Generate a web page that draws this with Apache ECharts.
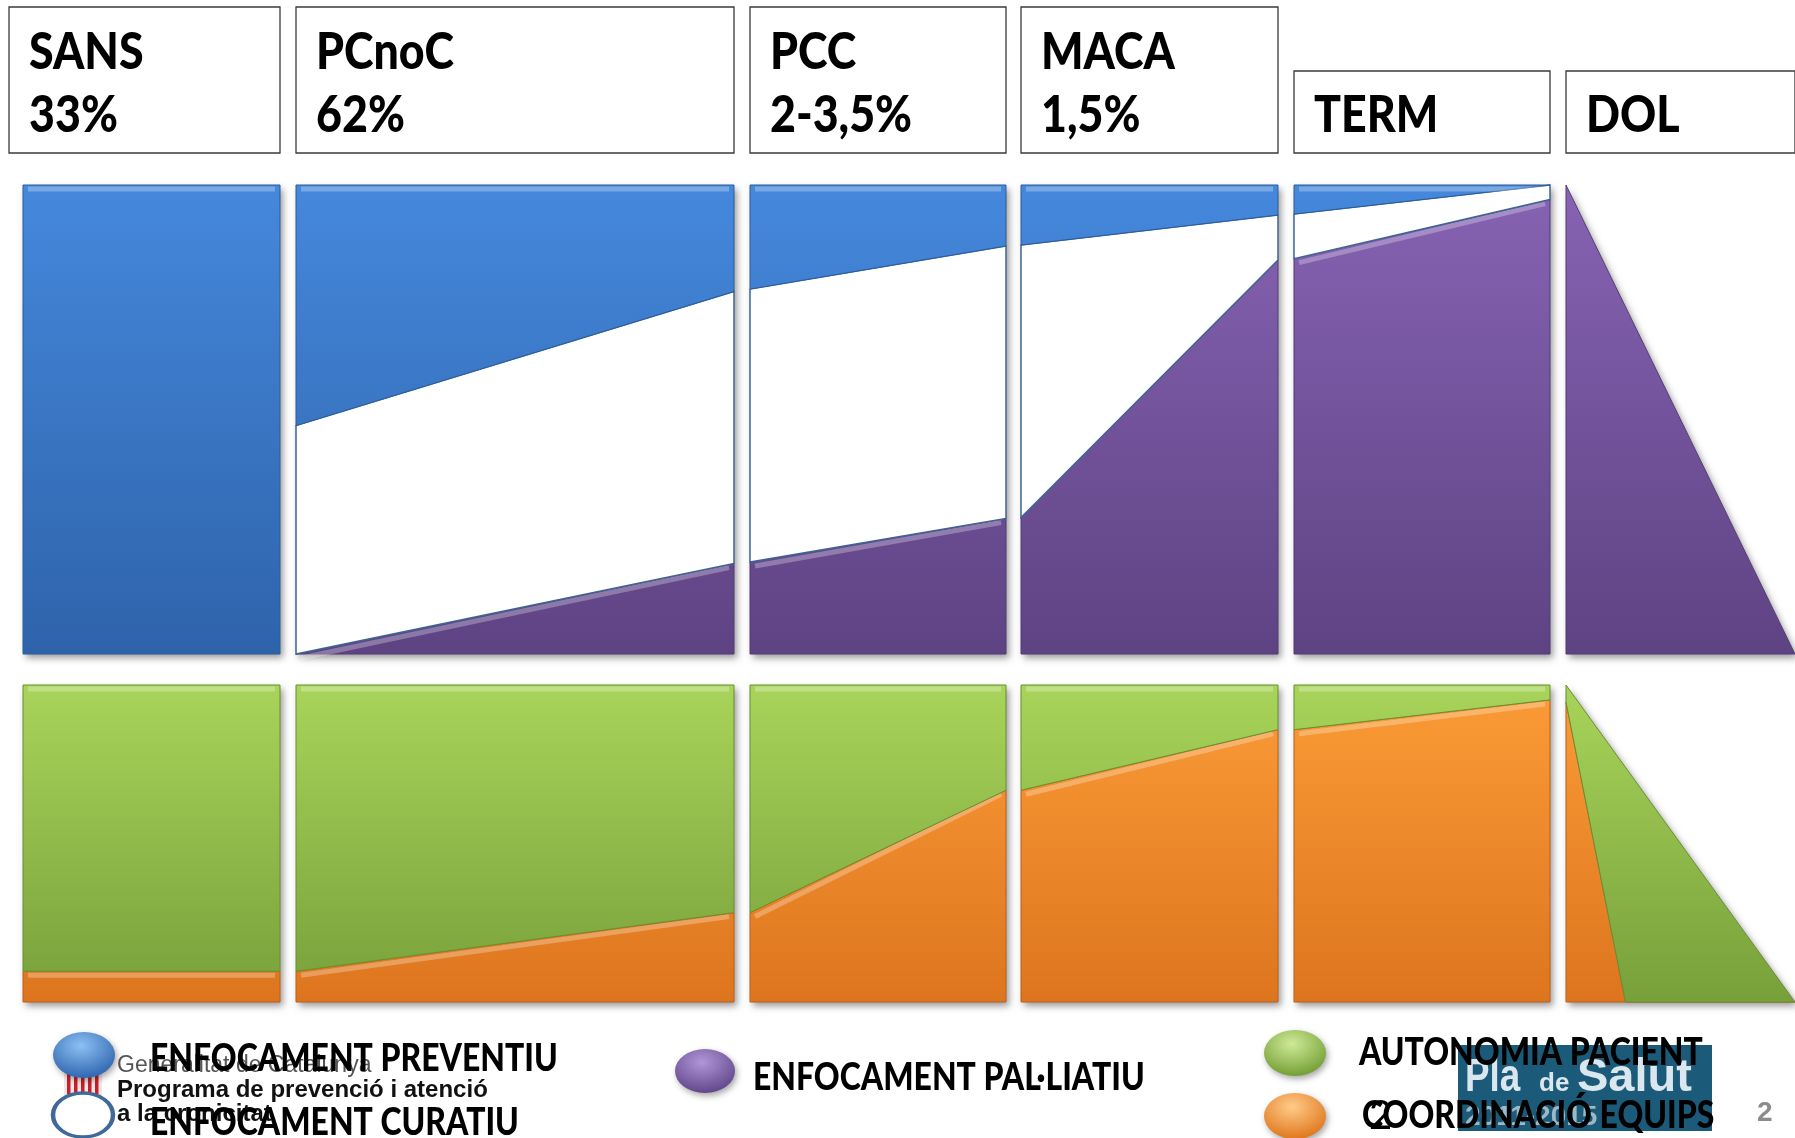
<!DOCTYPE html>
<html>
<head>
<meta charset="utf-8">
<script src="https://cdn.jsdelivr.net/npm/echarts@6/dist/echarts.min.js"></script>
<style>
  html, body { margin: 0; padding: 0; background: #fff; }
  #main { width: 1795px; height: 1138px; }
</style>
</head>
<body>
<div id="main"></div>
<script>
// stages of the patient pathway
const stages = ['SANS', 'PCnoC', 'PCC', 'MACA', 'TERM', 'DOL']
const shares = ['33%', '62%', '2-3,5%', '1,5%', '', '']
// extent of each stage on the (hidden) x axis
const stageStart = [23, 296, 750, 1021, 1294, 1566]
const stageEnd = [280, 734, 1006, 1278, 1550, 1795]

// upper panel: top of each layer at the left / right edge of a stage (0 = bottom, 1 = top)
const palliativeTop = [[0, 0], [0, 0.193], [0.196, 0.289], [0.291, 0.840], [0.843, 0.969], [1, 0]]
const curativeTop = [[0, 0], [0.487, 0.773], [0.778, 0.870], [0.872, 0.936], [0.938, 1.0], [1, 0]]
const preventiveTop = [[1, 1], [1, 1], [1, 1], [1, 1], [1, 1], [1, 0]]

// lower panel (third value: where in the stage the edge reaches its right value)
const coordinationTop = [[0.097, 0.097], [0.097, 0.282], [0.282, 0.668], [0.668, 0.859], [0.859, 0.953], [0.946, 0, 0.26]]
const autonomyTop = [[1, 1], [1, 1], [1, 1], [1, 1], [1, 1], [1, 0]]

const upperLayers = [
  { top: palliativeTop, colors: ['#8763b3', '#5e4383'], stroke: '#543b76', lineWidth: 1 },
  { top: curativeTop, colors: null, stroke: '#3c6594', lineWidth: 1.5 },
  { top: preventiveTop, colors: ['#4588dc', '#2e63aa'], stroke: '#2c5d9c', lineWidth: 1 }
]
const lowerLayers = [
  { top: coordinationTop, colors: ['#fb9c37', '#dd751e'], stroke: '#b9611a', lineWidth: 1 },
  { top: autonomyTop, colors: ['#a8d45a', '#77a03a'], stroke: '#688f30', lineWidth: 1 }
]

const chart = echarts.init(document.getElementById('main'))

function edgePoints(b) {
  return b.length > 2 ? [[0, b[0]], [b[2], b[1]], [1, b[1]]] : [[0, b[0]], [1, b[1]]]
}

function panelRenderer(layers) {
  return function(params, api) {
    const i = api.value(0)
    const x0 = stageStart[i]
    const x1 = stageEnd[i]
    const pt = p => api.coord([x0 + (x1 - x0) * p[0], p[1]])
    const yTop = api.coord([x0, 1])[1]
    const yBottom = api.coord([x0, 0])[1]
    const children = []

    // silhouette carrying the drop shadow
    const outer = edgePoints(layers[layers.length - 1].top[i]).map(pt).concat([pt([1, 0]), pt([0, 0])])
    children.push({
      type: 'polygon',
      shape: { points: outer },
      style: { fill: '#fff', shadowBlur: 7, shadowOffsetX: 3, shadowOffsetY: 4, shadowColor: 'rgba(0,0,0,0.4)' }
    })

    let lower = [0, 0]
    layers.forEach(layer => {
      const upper = layer.top[i]
      if (!(upper[0] === lower[0] && upper[1] === lower[1])) {
        const upPts = edgePoints(upper).map(pt)
        const lowPts = edgePoints(lower).map(pt).reverse()
        const fill = layer.colors
          ? new echarts.graphic.LinearGradient(0, yTop, 0, yBottom, [
            { offset: 0, color: layer.colors[0] },
            { offset: 1, color: layer.colors[1] }
          ], true)
          : '#fff'
        children.push({
          type: 'polygon',
          shape: { points: upPts.concat(lowPts) },
          style: { fill: fill, stroke: layer.stroke, lineWidth: layer.lineWidth }
        })
        // bevel highlight along a flat or gently sloped upper edge
        const slope = Math.abs(upPts[upPts.length - 1][1] - upPts[0][1]) / (upPts[upPts.length - 1][0] - upPts[0][0])
        if (layer.colors && slope < 1) {
          const hl = upPts.map((p, k) => [p[0] + (k === 0 ? 5 : k === upPts.length - 1 ? -5 : 0), p[1] + 4])
          children.push({
            type: 'polyline',
            shape: { points: hl },
            style: { stroke: 'rgba(255,255,255,0.28)', lineWidth: 5, fill: null }
          })
        }
      }
      lower = upper
    })
    return { type: 'group', children: children }
  }
}

function headerRenderer(params, api) {
  const i = api.value(0)
  const left = api.coord([stageStart[i], 0])[0] - (i === 0 ? 14 : 0)
  const right = api.coord([stageEnd[i], 0])[0]
  const bottom = api.coord([stageStart[i], 0])[1]
  let top = api.coord([stageStart[i], 1])[1]
  const lines = [stages[i], shares[i]].filter(Boolean)
  if (lines.length === 1) top = bottom - 82
  const children = [{
    type: 'rect',
    shape: { x: left, y: top, width: right - left, height: bottom - top },
    style: { fill: '#fff', stroke: '#3a3a3a', lineWidth: 1.3 }
  }]
  lines.forEach((t, k) => {
    children.push({
      type: 'text',
      x: left + 20,
      y: top + (lines.length === 1 ? 44 : (k === 0 ? 45 : 108)),
      scaleX: 0.86,
      style: { text: t, fill: '#000', fontFamily: 'Lato', fontWeight: 900, fontSize: 52, align: 'left', verticalAlign: 'middle' }
    })
  })
  return { type: 'group', children: children }
}

function legendBlob(cx, cy, rx, ry, light, dark) {
  return {
    type: 'circle',
    z: 5,
    x: cx,
    y: cy,
    scaleY: ry / rx,
    shape: { cx: 0, cy: 0, r: rx },
    style: {
      fill: new echarts.graphic.RadialGradient(0.45, 0.3, 0.75, [
        { offset: 0, color: light },
        { offset: 1, color: dark }
      ]),
      shadowBlur: 6,
      shadowOffsetX: 2,
      shadowOffsetY: 3,
      shadowColor: 'rgba(0,0,0,0.35)'
    }
  }
}

function legendText(x, y, text) {
  return {
    type: 'text',
    z: 10,
    x: x,
    y: y,
    scaleX: 0.84,
    style: { text: text, fill: '#000', fontFamily: 'Lato', fontWeight: 900, fontSize: 38, align: 'left', verticalAlign: 'middle' }
  }
}

const flagStripes = [0, 1, 2, 3, 4].map(k => ({
  type: 'rect',
  z: 2,
  shape: { x: 67 + k * 7, y: 1072, width: 3.5, height: 22 },
  style: { fill: '#c8202a' }
}))

const axisOff = idx => ({ type: 'value', min: 0, max: 1795, show: false, gridIndex: idx })
const yOff = idx => ({ type: 'value', min: 0, max: 1, show: false, gridIndex: idx })

const option = {
  animation: false,
  backgroundColor: '#fff',
  grid: [
    { left: 0, right: 0, top: 7, height: 146 },
    { left: 0, right: 0, top: 185, height: 469 },
    { left: 0, right: 0, top: 685, height: 317 }
  ],
  xAxis: [axisOff(0), axisOff(1), axisOff(2)],
  yAxis: [yOff(0), yOff(1), yOff(2)],
  series: [
    { type: 'custom', xAxisIndex: 0, yAxisIndex: 0, renderItem: headerRenderer, data: stages.map((s, i) => [i, 0]) },
    { type: 'custom', xAxisIndex: 1, yAxisIndex: 1, renderItem: panelRenderer(upperLayers), data: stages.map((s, i) => [i, 0]) },
    { type: 'custom', xAxisIndex: 2, yAxisIndex: 2, renderItem: panelRenderer(lowerLayers), data: stages.map((s, i) => [i, 0]) }
  ],
  graphic: [
    // Generalitat logo under the legend
    { type: 'rect', z: 1, shape: { x: 64, y: 1070, width: 38, height: 26 }, style: { fill: '#f3e6e6' } },
    ...flagStripes,
    { type: 'text', z: 2, x: 117, y: 1066, style: { text: 'Generalitat de Catalunya', fill: '#555', fontFamily: 'Liberation Sans', fontSize: 23, verticalAlign: 'middle' } },
    { type: 'text', z: 2, x: 117, y: 1090, style: { text: 'Programa de prevenció i atenció', fill: '#111', fontFamily: 'Liberation Sans', fontWeight: 'bold', fontSize: 24, verticalAlign: 'middle' } },
    { type: 'text', z: 2, x: 117, y: 1114, style: { text: 'a la cronicitat', fill: '#111', fontFamily: 'Liberation Sans', fontWeight: 'bold', fontSize: 24, verticalAlign: 'middle' } },
    // Pla de Salut logo
    { type: 'rect', z: 1, shape: { x: 1458, y: 1045, width: 254, height: 86 }, style: { fill: '#1c5a79' } },
    { type: 'text', z: 2, x: 1465, y: 1078, scaleX: 0.8, style: { text: 'Pla', fill: '#dbe7ee', fontFamily: 'Liberation Sans', fontWeight: 'bold', fontSize: 46, verticalAlign: 'middle' } },
    { type: 'text', z: 2, x: 1539, y: 1084, style: { text: 'de', fill: '#dbe7ee', fontFamily: 'Liberation Sans', fontWeight: 'bold', fontSize: 26, verticalAlign: 'middle' } },
    { type: 'text', z: 2, x: 1577, y: 1078, style: { text: 'Salut', fill: '#dbe7ee', fontFamily: 'Liberation Sans', fontWeight: 'bold', fontSize: 47, verticalAlign: 'middle' } },
    { type: 'text', z: 2, x: 1465, y: 1117, style: { text: '2011-2015', fill: '#9db8c7', fontFamily: 'Liberation Sans', fontWeight: 'bold', fontSize: 28, verticalAlign: 'middle' } },
    // legend
    legendBlob(84, 1055, 31, 23, '#8cc0f5', '#2a61aa'),
    {
      type: 'circle', z: 5, x: 83, y: 1115, scaleY: 22 / 30,
      shape: { cx: 0, cy: 0, r: 30 },
      style: { fill: '#fff', stroke: '#3f6a98', lineWidth: 4.5 }
    },
    legendBlob(705, 1071, 30, 22, '#b197d8', '#5c4186'),
    legendBlob(1295, 1053, 31, 23, '#cfea98', '#6e9a2e'),
    legendBlob(1295, 1116, 31, 23, '#ffcb8a', '#de7216'),
    legendText(150, 1059, 'ENFOCAMENT PREVENTIU'),
    legendText(150, 1123, 'ENFOCAMENT CURATIU'),
    legendText(753, 1078, 'ENFOCAMENT PAL·LIATIU'),
    legendText(1359, 1053, 'AUTONOMIA PACIENT'),
    legendText(1362, 1116, 'COORDINACIÓ EQUIPS'),
    // slide numbers
    { type: 'text', z: 11, x: 1369, y: 1116, style: { text: '2', fill: '#000', fontFamily: 'Lato', fontSize: 40, verticalAlign: 'middle' } },
    { type: 'text', z: 11, x: 1757, y: 1113, style: { text: '2', fill: '#8c8c8c', fontFamily: 'Liberation Sans', fontWeight: 'bold', fontSize: 28, verticalAlign: 'middle' } }
  ]
}

chart.setOption(option)
</script>
</body>
</html>
